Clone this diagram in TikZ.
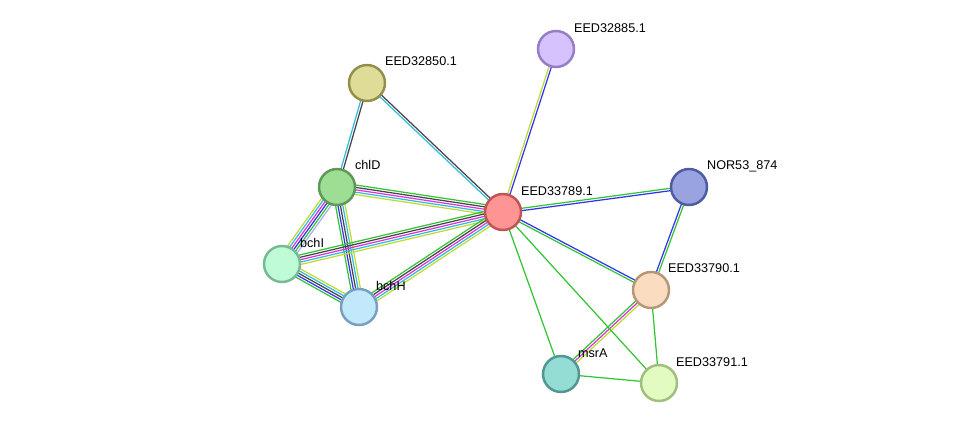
\documentclass[tikz,border=0pt]{standalone}
\usepackage{fontspec}
\setsansfont{Liberation Sans}
\usetikzlibrary{calc, backgrounds}

% one coloured strand per evidence channel
\newcommand{\strlink}[4]{%
    \foreach \c [count=\i] in {#4} {
        \draw [strand, \c] ($(#1)!{(\i-(#3+1)/2)*1.35pt}!90:(#2)$) -- ($(#2)!{(\i-(#3+1)/2)*1.35pt}!-90:(#1)$);
    }
}

\definecolor{sgreen}{HTML}{33C433}
\definecolor{sblue}{HTML}{3333EE}
\definecolor{sblack}{HTML}{444444}
\definecolor{smag}{HTML}{DD33DD}
\definecolor{scyan}{HTML}{33BBDD}
\definecolor{syel}{HTML}{BBDD33}
\definecolor{slav}{HTML}{AAAAEE}

\begin{document}
\begin{tikzpicture}[
    x=0.02cm, y=-0.02cm,
    % Styles
    protein/.style={% For protein nodes
        circle,
        minimum size=0.72cm,
        line width=1.4pt,
        inner sep=0pt,
    },
    lbl/.style={% For node names
        font=\sffamily\fontsize{7.2}{8}\selectfont,
        inner sep=1pt,
    },
    strand/.style={
        line width=0.7pt,
    },
    ]

    \useasboundingbox (0,0) rectangle (976,429);

    % Draw proteins
    \node [protein, fill={rgb,255:red,214;green,194;blue,252}, draw={rgb,255:red,150;green,125;blue,200}] (e885) at (556,49) {};
    \node [lbl, anchor=west] (le885) at (572,28) {EED32885.1};
    \node [protein, fill={rgb,255:red,222;green,220;blue,150}, draw={rgb,255:red,145;green,143;blue,75}] (e850) at (367,83) {};
    \node [lbl, anchor=west] (le850) at (383,61) {EED32850.1};
    \node [protein, fill={rgb,255:red,158;green,222;blue,148}, draw={rgb,255:red,95;green,150;blue,90}] (chlD) at (337,187) {};
    \node [lbl, anchor=west] (lchlD) at (353,165) {chlD};
    \node [protein, fill={rgb,255:red,255;green,148;blue,148}, draw={rgb,255:red,190;green,85;blue,85}] (e789) at (503,212) {};
    \node [lbl, anchor=west] (le789) at (519,191) {EED33789.1};
    \node [protein, fill={rgb,255:red,152;green,163;blue,224}, draw={rgb,255:red,80;green,90;blue,160}] (nor) at (689,187) {};
    \node [lbl, anchor=west] (lnor) at (705,166) {NOR53\_874};
    \node [protein, fill={rgb,255:red,192;green,251;blue,215}, draw={rgb,255:red,120;green,185;blue,150}] (bchI) at (282,264) {};
    \node [lbl, anchor=west] (lbchI) at (298,243) {bchI};
    \node [protein, fill={rgb,255:red,194;green,232;blue,251}, draw={rgb,255:red,120;green,160;blue,190}] (bchH) at (359,307) {};
    \node [lbl, anchor=west] (lbchH) at (374,286) {bchH};
    \node [protein, fill={rgb,255:red,250;green,220;blue,192}, draw={rgb,255:red,180;green,150;blue,120}] (e790) at (651,290) {};
    \node [lbl, anchor=west] (le790) at (666,268) {EED33790.1};
    \node [protein, fill={rgb,255:red,148;green,221;blue,213}, draw={rgb,255:red,80;green,150;blue,145}] (msrA) at (561,374) {};
    \node [lbl, anchor=west] (lmsrA) at (576,353) {msrA};
    \node [protein, fill={rgb,255:red,226;green,251;blue,192}, draw={rgb,255:red,160;green,190;blue,125}] (e791) at (659,383) {};
    \node [lbl, anchor=west] (le791) at (674,362) {EED33791.1};

    % Connect all
    \begin{scope}[on background layer]
        \strlink{e885}{e789}{2}{syel, sblue}
        \strlink{e850}{chlD}{2}{scyan, sblack}
        \strlink{e850}{e789}{2}{scyan, sblack}
        \strlink{chlD}{e789}{5}{syel, scyan, smag, sblack, sgreen}
        \strlink{chlD}{bchI}{6}{syel, scyan, smag, sblue, sgreen, slav}
        \strlink{chlD}{bchH}{5}{sgreen, sblue, sblack, scyan, syel}
        \strlink{bchI}{bchH}{5}{sgreen, sblue, sblack, scyan, syel}
        \strlink{bchI}{e789}{5}{syel, scyan, smag, sblack, sgreen}
        \strlink{bchH}{e789}{5}{syel, scyan, smag, sblack, sgreen}
        \strlink{e789}{nor}{2}{sblue, sgreen}
        \strlink{e789}{e790}{2}{sgreen, sblue}
        \strlink{nor}{e790}{2}{sblue, sgreen}
        \strlink{e790}{msrA}{3}{sgreen, smag, syel}
        \strlink{e789}{msrA}{1}{sgreen}
        \strlink{e789}{e791}{1}{sgreen}
        \strlink{e790}{e791}{1}{sgreen}
        \strlink{msrA}{e791}{1}{sgreen}
    \end{scope}

\end{tikzpicture}
\end{document}
